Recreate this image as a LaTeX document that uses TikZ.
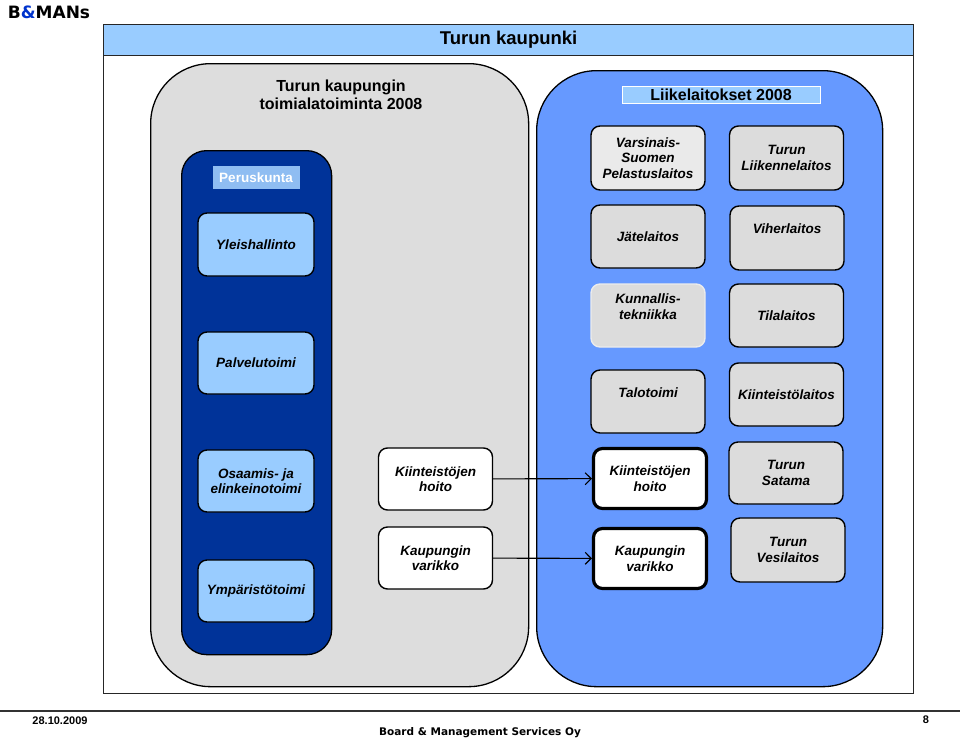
\documentclass[tikz,border=0pt]{standalone}
\usepackage{fontspec}
\setmainfont{Liberation Sans}
\newfontfamily\logofont{DejaVu Sans}
\usepackage{tikz}
\usetikzlibrary{arrows.meta}

\definecolor{headblue}{HTML}{99CCFF}
\definecolor{perusblue}{HTML}{8FBDF2}
\definecolor{darkblue}{HTML}{003399}
\definecolor{liikeblue}{HTML}{6699FF}
\definecolor{panelgray}{HTML}{DDDDDD}
\definecolor{boxgray}{HTML}{DCDCDC}
\definecolor{logoblue}{HTML}{0033CC}

\begin{document}
\begin{tikzpicture}[x=1pt,y=-1pt,->,>={Straight Barb[length=6pt,width=12pt]},thick,
      every node/.style={inner sep=0pt},
      panel/.style={draw,line width=1.3pt,anchor=north west,rounded corners=60pt},
      unit node/.style={draw,line width=1.4pt,rounded corners=9pt,align=center,
        minimum width=116pt,minimum height=62pt,
        font=\bfseries\itshape\fontsize{13.5}{15.5}\selectfont},
      perus node/.style={unit node,fill=headblue},
      liike node/.style={unit node,fill=boxgray,minimum width=114pt},
      hoito node/.style={unit node,fill=white,minimum width=114pt},
      uusi node/.style={hoito node,line width=3.2pt,minimum width=113pt,minimum height=60pt},
      lift/.style={text depth=#1}]

      \useasboundingbox (0,0) rectangle (960,739);

      % frame and header
      \node[draw,line width=1.3pt,draw=black!85,anchor=north west,
        minimum width=810pt,minimum height=669pt] (frame) at (103,24) {};
      \node[draw,line width=1.3pt,draw=black!85,fill=headblue,anchor=north west,
        minimum width=810pt,minimum height=31pt,
        font=\bfseries\fontsize{18.5}{20}\selectfont] (kaupunki) at (103,24) {Turun kaupunki};

      % panels
      \node[panel,fill=panelgray,minimum width=378pt,minimum height=623pt] (toimiala panel) at (150,63) {};
      \node[panel,fill=liikeblue,minimum width=346pt,minimum height=616pt] (liike panel) at (536,70) {};
      \node[panel,fill=darkblue,rounded corners=25pt,minimum width=150pt,minimum height=504pt] (perus panel) at (181,150) {};

      \node[align=center,font=\bfseries\fontsize{16}{18}\selectfont] (toimiala) at (341,95)
        {Turun kaupungin\\toimialatoiminta 2008};
      \node[fill=perusblue,text=white,minimum width=87pt,minimum height=23pt,
        font=\bfseries\fontsize{13.5}{15}\selectfont] (peruskunta) at (256,177.5) {Peruskunta};
      \node[fill=headblue,draw=white,line width=1pt,minimum width=198pt,minimum height=17pt,
        font=\bfseries\fontsize{16}{18}\selectfont] (liikelaitokset) at (721,95) {Liikelaitokset 2008};

      % peruskunta
      \node[perus node,minimum height=63pt] (yleis) at (256,244.5) {Yleishallinto};
      \node[perus node] (palvelu) at (256,363) {Palvelutoimi};
      \node[perus node] (osaamis) at (256,481) {Osaamis- ja\\elinkeinotoimi};
      \node[perus node] (ymparisto) at (256,591) {Ympäristötoimi};

      % toimialat
      \node[hoito node] (hoito) at (435.5,479) {Kiinteistöjen\\hoito};
      \node[hoito node] (varikko) at (435.5,558) {Kaupungin\\varikko};

      % liikelaitokset
      \node[liike node,fill=boxgray!60!white,minimum height=64pt] (pelastus) at (648,158)
        {Varsinais-\\Suomen\\Pelastuslaitos};
      \node[liike node,minimum height=64pt] (liikenne) at (786.5,158) {Turun\\Liikennelaitos};
      \node[liike node,minimum height=63pt] (jate) at (648,236.5) {Jätelaitos};
      \node[liike node,minimum height=64pt,lift=19pt] (viher) at (787,238) {Viherlaitos};
      \node[liike node,draw=white!85!gray,minimum height=63pt,lift=18pt] (kunnallis) at (648,315.5)
        {Kunnallis-\\tekniikka};
      \node[liike node,minimum height=63pt] (tila) at (786.5,315.5) {Tilalaitos};
      \node[liike node,minimum height=63pt,lift=17pt] (talo) at (648,401.5) {Talotoimi};
      \node[liike node,minimum height=63pt] (kiinteisto) at (786.5,394.5) {Kiinteistölaitos};
      \node[uusi node] (hoito uusi) at (650,478.5) {Kiinteistöjen\\hoito};
      \node[uusi node] (varikko uusi) at (650,558.5) {Kaupungin\\varikko};
      \node[liike node] (satama) at (786,473) {Turun\\Satama};
      \node[liike node,minimum height=64pt] (vesi) at (788,550) {Turun\\Vesilaitos};

      \path[line width=1.1pt]
      (hoito) edge (hoito uusi)
      (varikko) edge (varikko uusi);

      % logo and footer
      \node[font=\logofont\bfseries\fontsize{17}{19}\selectfont] (logo) at (49,12)
        {B\textcolor{logoblue}{\&}MANs};
      \coordinate (rule left) at (0,711);
      \coordinate (rule right) at (960,711);
      \draw[-,line width=1.5pt,black!80] (rule left) -- (rule right);
      \node[font=\bfseries\fontsize{11}{13}\selectfont] (date) at (60,721) {28.10.2009};
      \node[font=\bfseries\fontsize{11}{13}\selectfont] (page) at (926,720) {8};
      \node[font=\logofont\bfseries\fontsize{10.5}{12}\selectfont] (bms) at (480,733)
        {Board \& Management Services Oy};
    \end{tikzpicture}
\end{document}
